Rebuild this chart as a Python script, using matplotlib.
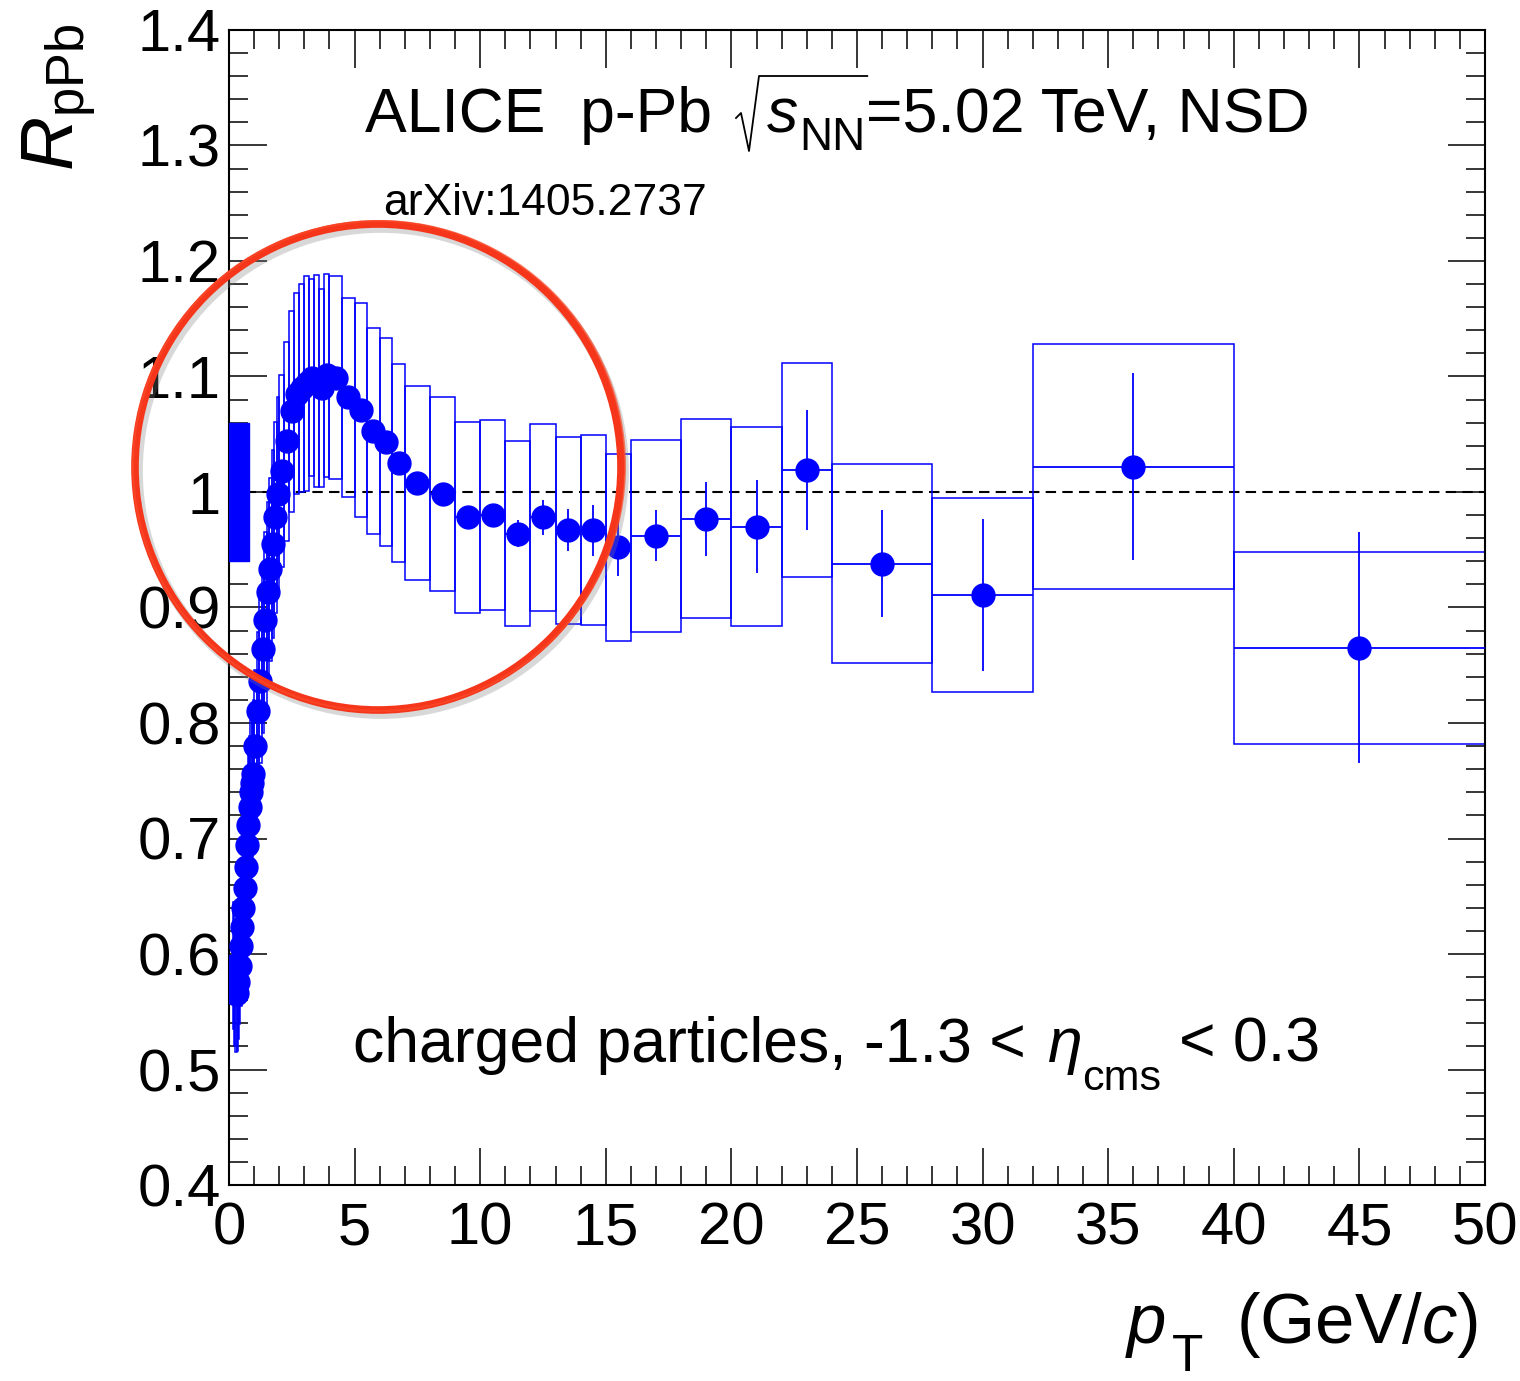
import numpy as np
import matplotlib
matplotlib.use('Agg')
import matplotlib.pyplot as plt
from matplotlib.patches import Rectangle, Ellipse
from matplotlib.lines import Line2D
from matplotlib.ticker import MultipleLocator, FuncFormatter

plt.rcParams['font.family'] = ['Liberation Sans', 'DejaVu Sans']
plt.rcParams['mathtext.fontset'] = 'custom'
plt.rcParams['mathtext.rm'] = 'Liberation Sans'
plt.rcParams['mathtext.it'] = 'Liberation Sans:italic'
plt.rcParams['mathtext.bf'] = 'Liberation Sans:bold'

W, H = 1520, 1381

# pT bin edges (GeV/c)
pt_edges = [0.15, 0.2, 0.25, 0.3, 0.35, 0.4, 0.45, 0.5, 0.55, 0.6, 0.65, 0.7, 0.75, 0.8,
            0.85, 0.9, 0.95, 1.0, 1.1, 1.2, 1.3, 1.4, 1.5, 1.6, 1.7, 1.8, 1.9, 2.0,
            2.2, 2.4, 2.6, 2.8, 3.0, 3.2, 3.4, 3.6, 3.8, 4.0, 4.5, 5.0, 5.5, 6.0, 6.5,
            7.0, 8.0, 9.0, 10.0, 11.0, 12.0, 13.0, 14.0, 15.0, 16.0, 18.0, 20.0, 22.0,
            24.0, 28.0, 32.0, 40.0, 50.0]

# R_pPb values
rppb = [0.590, 0.572, 0.565, 0.566, 0.576, 0.590, 0.607, 0.623, 0.640, 0.657, 0.675,
        0.694, 0.712, 0.727, 0.740, 0.748, 0.756,
        0.780, 0.810, 0.836, 0.864, 0.889, 0.913, 0.933, 0.955, 0.978, 0.998,
        1.018, 1.044, 1.070, 1.085, 1.090, 1.094, 1.099, 1.096, 1.090, 1.101,
        1.099, 1.082, 1.071, 1.053, 1.043, 1.025,
        1.008, 0.998, 0.978, 0.980, 0.964, 0.978, 0.967, 0.967, 0.952,
        0.962, 0.977, 0.970, 1.019, 0.938, 0.911, 1.022, 0.865]

# statistical errors
stat = [0.002, 0.002, 0.002, 0.002, 0.002, 0.002, 0.002, 0.002, 0.002, 0.002, 0.002,
        0.002, 0.002, 0.002, 0.002, 0.002, 0.002,
        0.002, 0.002, 0.002, 0.002, 0.002, 0.002, 0.002, 0.002, 0.002, 0.002,
        0.002, 0.002, 0.002, 0.002, 0.003, 0.003, 0.003, 0.003, 0.003, 0.003,
        0.003, 0.003, 0.004, 0.004, 0.004, 0.004,
        0.004, 0.005, 0.006, 0.007, 0.012, 0.015, 0.018, 0.022, 0.025,
        0.022, 0.032, 0.040, 0.052, 0.046, 0.066, 0.081, 0.100]

# systematic errors
syst = [0.055, 0.052, 0.050, 0.050, 0.050, 0.051, 0.052, 0.053, 0.054, 0.056, 0.057,
        0.059, 0.060, 0.062, 0.063, 0.064, 0.064,
        0.066, 0.069, 0.071, 0.073, 0.076, 0.078, 0.079, 0.081, 0.083, 0.084,
        0.083, 0.086, 0.087, 0.087, 0.090, 0.093, 0.085, 0.092, 0.086, 0.088,
        0.088, 0.086, 0.093, 0.089, 0.090, 0.086,
        0.084, 0.084, 0.083, 0.082, 0.080, 0.081, 0.081, 0.082, 0.081,
        0.083, 0.086, 0.086, 0.093, 0.086, 0.084, 0.106, 0.083]

# normalisation uncertainty
norm_unc = 0.06
norm_width = 0.8

edges = np.array(pt_edges)
pt = 0.5 * (edges[:-1] + edges[1:])
xerr = 0.5 * (edges[1:] - edges[:-1])


def fxy(x, y):
    # image pixel (from top-left) -> figure fraction
    return x / W, 1 - y / H


fig = plt.figure(figsize=(W/100, H/100), dpi=100)
ax = fig.add_axes([229/W, 1 - 1185/H, 1256/W, 1155/H])

# systematic boxes
for lo, hi, v, s in zip(edges[:-1], edges[1:], rppb, syst):
    ax.add_patch(Rectangle((lo, v - s), hi - lo, 2*s, fill=False,
                           edgecolor='blue', linewidth=1.1, zorder=2))

# normalisation box
ax.add_patch(Rectangle((0, 1 - norm_unc), norm_width, 2*norm_unc,
                       facecolor='blue', edgecolor='blue', zorder=3))

ax.axhline(1.0, color='black', linestyle=(0, (5, 3)), linewidth=1.5, zorder=1)

ax.errorbar(pt, rppb, xerr=xerr, yerr=stat, fmt='o', color='blue', ms=16.5,
            elinewidth=1.3, capsize=0, zorder=4)

ax.set_xlim(0, 50)
ax.set_ylim(0.4, 1.4)
ax.xaxis.set_major_locator(MultipleLocator(5))
ax.xaxis.set_minor_locator(MultipleLocator(1))
ax.yaxis.set_major_locator(MultipleLocator(0.1))
ax.yaxis.set_minor_locator(MultipleLocator(0.02))
ax.yaxis.set_major_formatter(FuncFormatter(lambda v, p: '%g' % round(v, 2)))
ax.tick_params(which='both', direction='in', top=True, right=True, width=1.1,
               labelsize=43)
ax.tick_params(which='major', length=27)
ax.tick_params(which='minor', length=14)
ax.tick_params(axis='x', pad=12)
ax.tick_params(axis='y', pad=6)
for sp in ax.spines.values():
    sp.set_linewidth(1.5)

# axis titles
fig.text(*fxy(60, 24), r'$R_{\mathrm{pPb}}$', rotation=90,
         ha='center', va='top', fontsize=54)
fig.text(*fxy(1478, 1343), '(GeV/$c$)', ha='right', va='baseline', fontsize=51)
fig.text(*fxy(1125, 1343), '$p$', ha='left', va='baseline', fontsize=51)
fig.text(*fxy(1172, 1371), 'T', ha='left', va='baseline', fontsize=37)

# title with hand-built square root
r = fig.canvas.get_renderer()
t1 = fig.text(*fxy(365, 132), 'ALICE  p-Pb', ha='left', va='baseline', fontsize=45)
x1 = t1.get_window_extent(r).x1
rad_x = x1 + 24
t2 = fig.text(*fxy(rad_x + 30, 132), '$s$', ha='left', va='baseline', fontsize=45)
x2 = t2.get_window_extent(r).x1
t3 = fig.text(*fxy(x2 + 1, 150), 'NN', ha='left', va='baseline', fontsize=33)
x3 = t3.get_window_extent(r).x1
fig.text(*fxy(x3 + 1, 132), '=5.02 TeV, NSD', ha='left', va='baseline', fontsize=45)
rx = [rad_x, rad_x + 5, rad_x + 13, rad_x + 23, x3 + 2]
ry = [118, 113, 151, 76, 76]
fig.add_artist(Line2D([v / W for v in rx], [1 - v / H for v in ry],
                      transform=fig.transFigure, color='black', linewidth=1.3))

ax.text(0.1226, 0.850, 'arXiv:1405.2737', transform=ax.transAxes,
        ha='left', va='center', fontsize=32)

# bottom label
tb = fig.text(*fxy(353, 1062), 'charged particles, -1.3 < ', ha='left', va='baseline', fontsize=45)
xb = tb.get_window_extent(r).x1
tb2 = fig.text(*fxy(xb + 4, 1062), r'$\eta$', ha='left', va='baseline', fontsize=45)
xb2 = tb2.get_window_extent(r).x1
tb3 = fig.text(*fxy(xb2 + 1, 1090), 'cms', ha='left', va='baseline', fontsize=31)
xb3 = tb3.get_window_extent(r).x1
fig.text(*fxy(xb3 + 18, 1062), '< 0.3', ha='left', va='baseline', fontsize=45)

# hand drawn highlight circle
cx, cy, rr = 378, 467, 243
fig.add_artist(Ellipse(fxy(cx + 3, cy + 4), 2*rr/W, 2*rr/H,
                       transform=fig.transFigure, fill=False, edgecolor='grey',
                       linewidth=7, alpha=0.3, zorder=9))
fig.add_artist(Ellipse(fxy(cx, cy), 2*rr/W, 2*rr/H,
                       transform=fig.transFigure, fill=False, edgecolor='#f5361b',
                       linewidth=5.5, zorder=10))
fig.add_artist(Ellipse(fxy(cx + 1, cy - 1), 2*(rr + 3)/W, 2*(rr + 2)/H,
                       transform=fig.transFigure, fill=False, edgecolor='#fa4a2a',
                       linewidth=1.5, alpha=0.7, zorder=10))

fig.savefig('out.png', dpi=100)
